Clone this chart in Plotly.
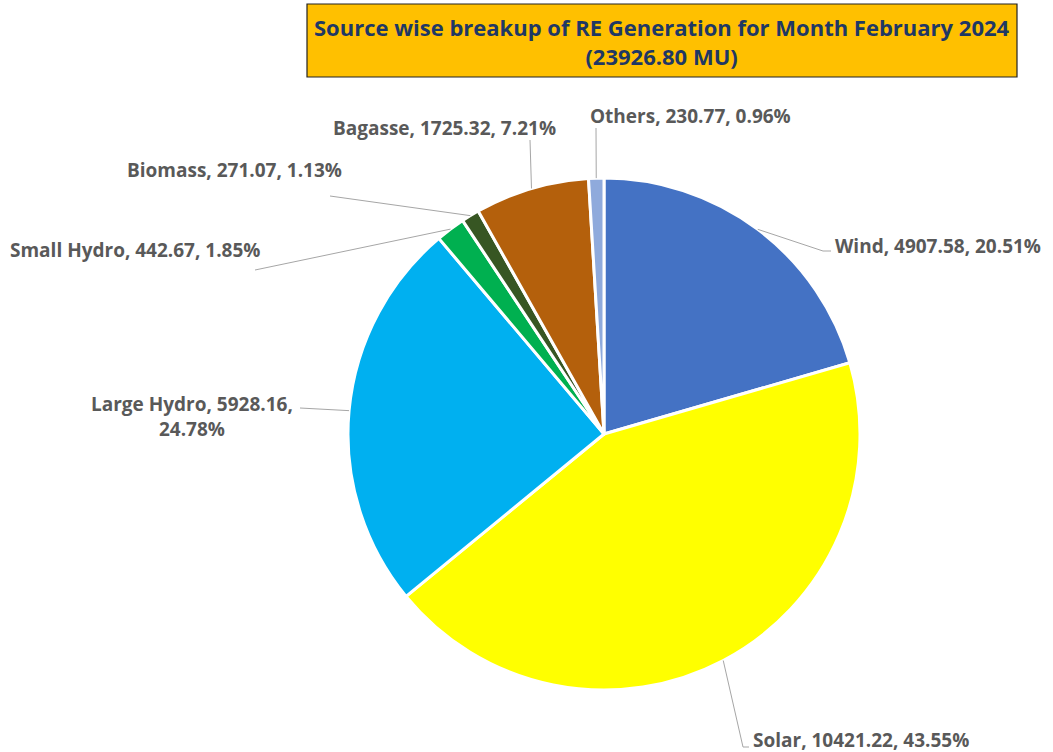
import numpy as np
import plotly.graph_objects as go

# source-wise RE generation, Feb 2024 (MU)
sources = ["Wind", "Solar", "Large Hydro", "Small Hydro", "Biomass", "Bagasse", "Others"]
generation = [4907.58, 10421.22, 5928.16, 442.67, 271.07, 1725.32, 230.77]
shares = ["20.51%", "43.55%", "24.78%", "1.85%", "1.13%", "7.21%", "0.96%"]
colors = ["#4472C4", "#FFFF00", "#00B0F0", "#00B050", "#375623", "#B4600C", "#8FAADC"]
total_mu = 23926.80

W, H = 1053, 752
cx, cy, R = 604, 434, 256  # pie centre / radius in px


def px(x):
    return x / W


def py(y):
    return 1 - y / H


fig = go.Figure(go.Pie(
    labels=sources, values=generation, sort=False, direction="clockwise",
    marker=dict(colors=colors, line=dict(color="white", width=3)),
    textinfo="none", hoverinfo="label+value+percent", showlegend=False,
    domain=dict(x=[px(cx - R), px(cx + R)], y=[py(cy + R), py(cy - R)]),
))

# label layout: text anchor (px), leader-line knee points (px)
label_pos = {
    "Wind": (833, 246, "left", [(823, 251), (831, 251)]),
    "Solar": (751, 740, "left", [(743, 747), (749, 747)]),
    "Large Hydro": (192, 416, "center", [(300, 408)]),
    "Small Hydro": (135, 250, "center", [(255, 270)]),
    "Biomass": (234, 170, "center", [(330, 196)]),
    "Bagasse": (444, 128, "center", [(530, 140)]),
    "Others": (690, 116, "center", [(596, 128)]),
}

vals = np.array(generation)
cum = np.cumsum(vals) / vals.sum()
mids = cum - vals / vals.sum() / 2

shapes = []
annotations = []
for name, val, pct, m in zip(sources, generation, shares, mids):
    ang = 2 * np.pi * m
    ex, ey = cx + R * np.sin(ang), cy - R * np.cos(ang)
    tx, ty, anchor, knees = label_pos[name]
    pts = [(ex, ey)] + knees
    path = "M " + " L ".join(f"{px(a)},{py(b)}" for a, b in pts)
    shapes.append(dict(type="path", xref="paper", yref="paper", path=path,
                       line=dict(color="#A6A6A6", width=1)))
    txt = f"{name}, {val:.2f}, {pct}"
    if name == "Large Hydro":
        txt = f"{name}, {val:.2f},<br>{pct}"
    annotations.append(dict(x=px(tx), y=py(ty), xref="paper", yref="paper", text=txt,
                            showarrow=False, xanchor=anchor, yanchor="middle",
                            font=dict(family="Open Sans", size=19, color="#595959", weight="bold")))

# title box
shapes.append(dict(type="rect", xref="paper", yref="paper", x0=px(307), x1=px(1017),
                   y0=py(77), y1=py(4), fillcolor="#FFC000", line=dict(color="#222222", width=1.2),
                   layer="below"))
annotations.append(dict(x=px(662), y=py(42), xref="paper", yref="paper", showarrow=False,
                        xanchor="center", yanchor="middle",
                        text=f"Source wise breakup of RE Generation for Month February 2024<br>({total_mu:.2f} MU)",
                        font=dict(family="Open Sans", size=22, color="#1F3864", weight="bold")))

fig.update_layout(
    width=W, height=H, margin=dict(l=0, r=0, t=0, b=0),
    paper_bgcolor="white", plot_bgcolor="white",
    shapes=shapes, annotations=annotations,
)

fig.write_html("out.html", config={"displayModeBar": False},
               post_script="document.body.style.margin='0';")
